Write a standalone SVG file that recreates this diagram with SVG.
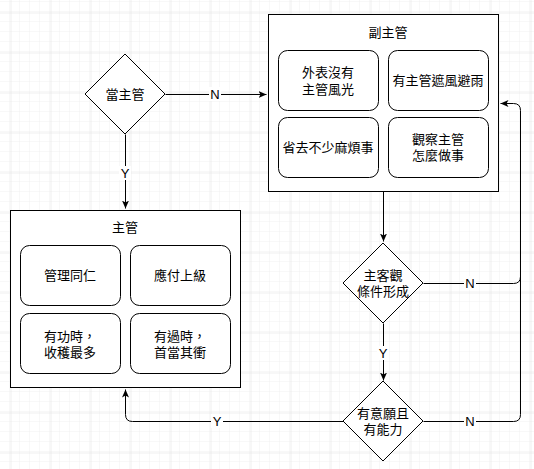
<svg xmlns="http://www.w3.org/2000/svg" width="534" height="469" viewBox="0 0 534 469">
<defs>
<pattern id="minor" width="10" height="10" patternUnits="userSpaceOnUse" x="0" y="2">
<path d="M10,0 V10 M0,10 H10" fill="none" stroke="#f0f0f0" stroke-width="1"/>
</pattern>
<pattern id="major" width="40" height="40" patternUnits="userSpaceOnUse" x="10.5" y="12.5">
<path d="M0,0 V40 M0,0 H40" fill="none" stroke="#e0e0e0" stroke-width="1"/>
</pattern>
<marker id="arr" markerUnits="userSpaceOnUse" markerWidth="10" markerHeight="10" refX="8" refY="3.5" orient="auto">
<path d="M0,0 L8,3.5 L0,7 L2,3.5 Z" fill="#000"/>
</marker>
</defs>
<style>
text{font-family:"Liberation Sans","Noto Sans CJK TC",sans-serif;font-size:13px;fill:#000;text-anchor:middle;dominant-baseline:central}
.box{fill:#fff;stroke:#000;stroke-width:1}
.rbox{fill:#fff;stroke:#000;stroke-width:1}
.dia{fill:#fff;stroke:#000;stroke-width:1}
.edge{fill:none;stroke:#000;stroke-width:1}
.lbl{fill:#fff}
</style>
<rect width="534" height="469" fill="#fff"/>
<rect width="534" height="469" fill="url(#minor)"/>
<rect width="534" height="469" fill="url(#major)"/>

<g id="connectors">
<g transform="translate(0.5,0.5)">
<path class="edge" d="M165,94 H266" marker-end="url(#arr)"/>
<path class="edge" d="M125,134 V208" marker-end="url(#arr)"/>
<path class="edge" d="M383,191 V241" marker-end="url(#arr)"/>
<path class="edge" d="M383,323 V380" marker-end="url(#arr)"/>
<path class="edge" d="M423,421 H513 Q520,421 520,414 V110 Q520,103 513,103 H500" marker-end="url(#arr)"/>
<path class="edge" d="M423,283 H513 Q520,283 520,276"/>
<path class="edge" d="M343,421 H132 Q125,421 125,414 V389" marker-end="url(#arr)"/>
</g>
<rect class="lbl" x="209" y="87" width="12" height="14"/>
<text x="215" y="94">N</text>
<rect class="lbl" x="119" y="166" width="12" height="14"/>
<text x="125" y="173">Y</text>
<rect class="lbl" x="377" y="346" width="12" height="14"/>
<text x="383" y="353">Y</text>
<rect class="lbl" x="464" y="276" width="12" height="14"/>
<text x="470" y="283">N</text>
<rect class="lbl" x="464" y="414" width="12" height="14"/>
<text x="470" y="421">N</text>
<rect class="lbl" x="211" y="414" width="12" height="14"/>
<text x="217" y="421">Y</text>
</g>

<g id="node-dangzhuguan">
<polygon class="dia" points="125,54 165,94 125,134 85,94"/>
<text x="125" y="94">當主管</text>
</g>

<g id="node-fuzhuguan">
<rect class="box" x="268.5" y="14.5" width="230" height="177"/>
<text x="388" y="32">副主管</text>
</g>
<g id="node-fu1">
<rect class="rbox" x="278.5" y="50.5" width="100" height="60" rx="9"/>
<text x="328" y="72.5">外表沒有</text>
<text x="328" y="89">主管風光</text>
</g>
<g id="node-fu2">
<rect class="rbox" x="388.5" y="50.5" width="100" height="60" rx="9"/>
<text x="438" y="80.5">有主管遮風避雨</text>
</g>
<g id="node-fu3">
<rect class="rbox" x="278.5" y="117.5" width="100" height="60" rx="9"/>
<text x="328" y="147.5">省去不少麻煩事</text>
</g>
<g id="node-fu4">
<rect class="rbox" x="388.5" y="117.5" width="100" height="60" rx="9"/>
<text x="438" y="139.5">觀察主管</text>
<text x="438" y="155.5">怎麼做事</text>
</g>

<g id="node-zhuguan">
<rect class="box" x="10.5" y="210.5" width="230" height="177"/>
<text x="125" y="227">主管</text>
</g>
<g id="node-zhu1">
<rect class="rbox" x="20.5" y="245.5" width="100" height="60" rx="9"/>
<text x="70" y="275.5">管理同仁</text>
</g>
<g id="node-zhu2">
<rect class="rbox" x="130.5" y="245.5" width="100" height="60" rx="9"/>
<text x="180" y="275.5">應付上級</text>
</g>
<g id="node-zhu3">
<rect class="rbox" x="20.5" y="313.5" width="100" height="60" rx="9"/>
<text x="70" y="336">有功時，</text>
<text x="70" y="352">收穫最多</text>
</g>
<g id="node-zhu4">
<rect class="rbox" x="130.5" y="313.5" width="100" height="60" rx="9"/>
<text x="180" y="336">有過時，</text>
<text x="180" y="352">首當其衝</text>
</g>

<g id="node-zhukeguan">
<polygon class="dia" points="383,243 423,283 383,323 343,283"/>
<text x="383" y="275">主客觀</text>
<text x="383" y="291">條件形成</text>
</g>

<g id="node-youyiyuan">
<polygon class="dia" points="383,381 423,421 383,461 343,421"/>
<text x="383" y="413">有意願且</text>
<text x="383" y="429">有能力</text>
</g>
</svg>
